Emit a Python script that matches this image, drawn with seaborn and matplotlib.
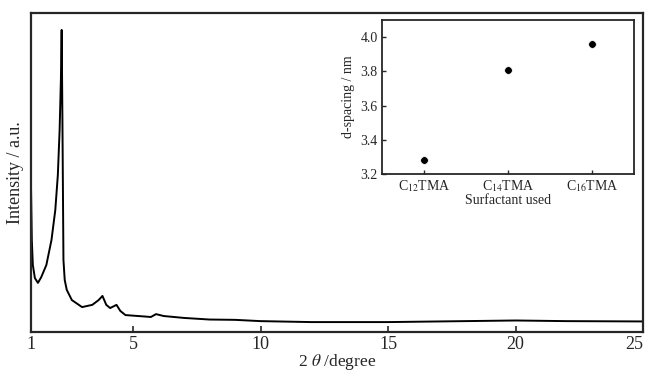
import pandas as pd
import matplotlib
matplotlib.use("Agg")
import matplotlib.pyplot as plt
import seaborn as sns

# XRD pattern
two_theta = [1.00, 1.03, 1.07, 1.15, 1.27, 1.40, 1.60, 1.80, 1.95, 2.05, 2.12, 2.17,
             2.20, 2.23, 2.27, 2.32, 2.40, 2.60, 3.00, 3.40, 3.65, 3.80, 3.95, 4.10,
             4.35, 4.50, 4.70, 5.20, 5.70, 5.90, 6.20, 7.00, 8.00, 9.00, 10.0, 12.0,
             15.0, 18.0, 20.0, 22.0, 25.0]
intensity = [44.5, 28.8, 21.0, 16.9, 15.4, 17.2, 21.0, 28.8, 38.2, 49.2, 63.3, 79.0,
             94.7, 66.5, 22.6, 16.3, 13.2, 10.0, 7.8, 8.5, 10.0, 11.3, 8.5, 7.5,
             8.5, 6.6, 5.3, 5.0, 4.7, 5.6, 5.0, 4.4, 3.9, 3.8, 3.4, 3.1,
             3.1, 3.4, 3.6, 3.4, 3.3]

# inset: d-spacing vs surfactant
surfactants = ["C$_{12}$TMA", "C$_{14}$TMA", "C$_{16}$TMA"]
d_spacing = [3.28, 3.81, 3.96]

xrd = pd.DataFrame({"two_theta": two_theta, "intensity": intensity})
dsp = pd.DataFrame({"surfactant": surfactants, "d": d_spacing})

sns.set_style("ticks")
plt.rcParams["font.family"] = ["Liberation Serif", "DejaVu Serif"]
plt.rcParams["mathtext.fontset"] = "stix"

fig = plt.figure(figsize=(6.47, 3.73), dpi=100)
ax = fig.add_axes([0.048, 0.110, 0.946, 0.855])
sns.lineplot(data=xrd, x="two_theta", y="intensity", color="black", linewidth=1.4, ax=ax)
ax.set_xlim(1, 25)
ax.set_ylim(0, 100)
ax.set_xticks([1, 5, 10, 15, 20, 25])
ax.set_yticks([])
ax.tick_params(axis="x", direction="in", length=4, width=1.2, labelsize=13, pad=3)
ax.get_xticklabels()[-1].set_ha("right")
ax.set_xlabel("2 $\\theta$ /degree", fontsize=12.5, labelpad=-1)
ax.set_ylabel("Intensity / a.u.", fontsize=13, labelpad=5)
for s in ax.spines.values():
    s.set_linewidth(1.6)
    s.set_visible(True)

ins = fig.add_axes([0.590, 0.534, 0.390, 0.412])
sns.scatterplot(data=dsp, x="surfactant", y="d", color="black", s=30, ax=ins)
ins.set_xlim(-0.5, 2.5)
ins.set_ylim(3.2, 4.1)
ins.set_yticks([3.2, 3.4, 3.6, 3.8, 4.0])
ins.set_yticklabels(["3.2", "3.4", "3.6", "3.8", "4.0"])
ins.tick_params(direction="in", length=3, width=1, labelsize=10, pad=3)
ins.set_xlabel("Surfactant used", fontsize=10, labelpad=0)
ins.set_ylabel("d-spacing / nm", fontsize=10, labelpad=4)
for s in ins.spines.values():
    s.set_linewidth(1.3)
    s.set_visible(True)

fig.savefig("out.png", dpi=100)
